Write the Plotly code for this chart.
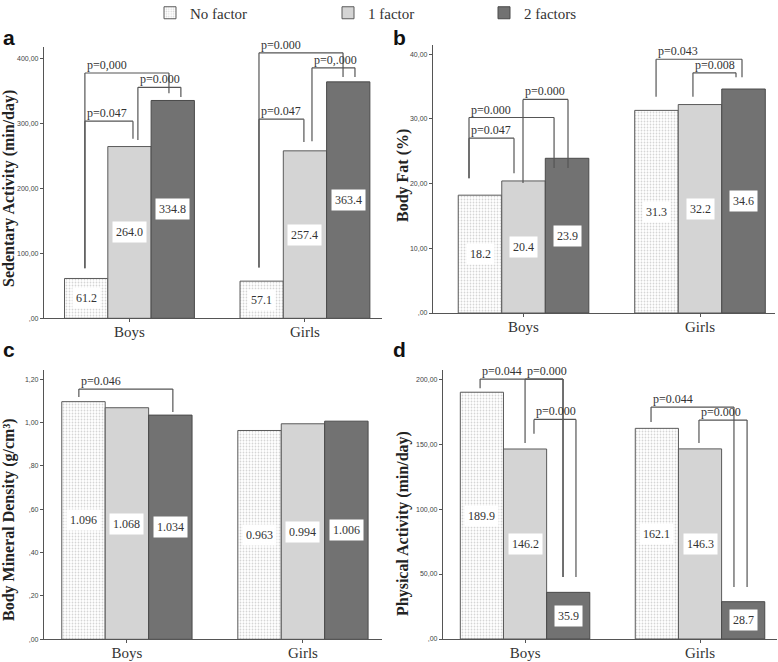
import plotly.graph_objects as go

W, H = 778, 662

groups = ["Boys", "Girls"]
series = ["No factor", "1 factor", "2 factors"]

# Sedentary activity (min/day)
sed_no = [61.2, 57.1]
sed_one = [264.0, 257.4]
sed_two = [334.8, 363.4]
# Body fat (%)
fat_no = [18.2, 31.3]
fat_one = [20.4, 32.2]
fat_two = [23.9, 34.6]
# Body mineral density (g/cm3)
bmd_no = [1.096, 0.963]
bmd_one = [1.068, 0.994]
bmd_two = [1.034, 1.006]
# Physical activity (min/day)
pa_no = [189.9, 162.1]
pa_one = [146.2, 146.3]
pa_two = [35.9, 28.7]

sed_ticks = [0, 100, 200, 300, 400]
sed_ticktext = [",00", "100,00", "200,00", "300,00", "400,00"]
fat_ticks = [0, 10, 20, 30, 40]
fat_ticktext = [",00", "10,00", "20,00", "30,00", "40,00"]
bmd_ticks = [0, 0.2, 0.4, 0.6, 0.8, 1.0, 1.2]
bmd_ticktext = [",00", ",20", ",40", ",60", ",80", "1,00", "1,20"]
pa_ticks = [0, 50, 100, 150, 200]
pa_ticktext = [",00", "50,00", "100,00", "150,00", "200,00"]

# significance brackets: (text, group, left offset, right offset, top, left bottom, right bottom)
sed_brackets = [
    ("p=0,000", 0, -0.254, 0.225, 377, 77, 346),
    ("p=0.000", 0, 0.048, 0.293, 355, 274, 340),
    ("p=0.047", 0, -0.254, 0.02, 303, 77, 276),
    ("p=0.000", 1, -0.262, 0.217, 408, 78, 371),
    ("p=0,.000", 1, 0.04, 0.285, 385, 272, 371),
    ("p=0.047", 1, -0.262, -0.006, 306, 78, 271),
]
fat_brackets = [
    ("p=0.047", 0, -0.309, -0.054, 27.0, 20.8, 21.6),
    ("p=0.000", 0, -0.309, 0.173, 30.2, 20.8, 22.4),
    ("p=0.000", 0, -0.003, 0.252, 33.0, 20.1, 22.4),
    ("p=0.043", 1, -0.249, 0.238, 39.2, 33.4, 36.4),
    ("p=0.008", 1, -0.04, 0.204, 37.1, 33.4, 36.4),
]
bmd_brackets = [
    ("p=0.046", 0, -0.273, 0.261, 1.154, 1.117, 1.048),
]
pa_brackets = [
    ("p=0.044", 0, -0.257, 0.217, 200, 193, 47.7),
    ("p=0.000", 0, 0.0, 0.217, 200, 150.8, 47.7),
    ("p=0.000", 0, 0.051, 0.291, 169, 158, 47.7),
    ("p=0.044", 1, -0.28, 0.194, 178.5, 167, 40),
    ("p=0.000", 1, -0.006, 0.269, 168.5, 150.8, 40),
]


def px(x):
    return x / W


def py(y):
    return 1 - y / H


panels = [
    dict(letter="a", vals=[sed_no, sed_one, sed_two], fmt="{:.1f}",
         title="Sedentary Activity (min/day)", ticks=sed_ticks, ticktext=sed_ticktext,
         xpix=(44, 382), ypix=(318.3, 47), yrange=(0, 417), xrange=(-0.487, 1.439),
         letterpos=(1, 38), titlepos=(9, 189), brackets=sed_brackets),
    dict(letter="b", vals=[fat_no, fat_one, fat_two], fmt="{:.1f}",
         title="Body Fat (%)", ticks=fat_ticks, ticktext=fat_ticktext,
         xpix=(433, 775), ypix=(313, 45), yrange=(0, 41.4), xrange=(-0.513, 1.425),
         letterpos=(391, 38), titlepos=(403, 175), brackets=fat_brackets),
    dict(letter="c", vals=[bmd_no, bmd_one, bmd_two], fmt="{:.3f}",
         title="Body Mineral Density (g/cm³)", ticks=bmd_ticks, ticktext=bmd_ticktext,
         xpix=(44, 382), ypix=(639.3, 370), yrange=(0, 1.242), xrange=(-0.471, 1.449),
         letterpos=(1, 349), titlepos=(9, 520), brackets=bmd_brackets),
    dict(letter="d", vals=[pa_no, pa_one, pa_two], fmt="{:.1f}",
         title="Physical Activity (min/day)", ticks=pa_ticks, ticktext=pa_ticktext,
         xpix=(443, 777), ypix=(639, 370), yrange=(0, 207), xrange=(-0.469, 1.44),
         letterpos=(391, 349), titlepos=(403, 523), brackets=pa_brackets),
]

SERIF = "Times New Roman, Liberation Serif, DejaVu Serif, serif"
SANS = "Arial, Liberation Sans, DejaVu Sans, sans-serif"
LINE = "#555555"
TXT = "#333333"
BARGAP = 0.26
bw = (1 - BARGAP) / 3

markers = [
    dict(color="white", line=dict(color="#5a5a5a", width=1),
         pattern=dict(shape=".", fgcolor="#ababab", bgcolor="white", size=3, solidity=0.28)),
    dict(color="#d4d4d4", line=dict(color="#5a5a5a", width=1)),
    dict(color="#727272", line=dict(color="#4a4a4a", width=1)),
]
legend_x = [150, 328, 484]

fig = go.Figure()
annotations = []
shapes = []
layout = {}

for p_i, p in enumerate(panels):
    n = "" if p_i == 0 else str(p_i + 1)
    xa, ya = "x" + n, "y" + n
    for s_i, s in enumerate(series):
        fig.add_trace(go.Bar(
            x=groups, y=p["vals"][s_i], name=s, xaxis=xa, yaxis=ya,
            marker=markers[s_i], showlegend=(p_i == 0),
            legend=("legend" if s_i == 0 else "legend" + str(s_i + 1)),
            hoverinfo="skip",
        ))
        for g_i, v in enumerate(p["vals"][s_i]):
            annotations.append(dict(
                x=g_i + (s_i - 1) * bw, y=v / 2, xref=xa, yref=ya,
                text=p["fmt"].format(v), showarrow=False, bgcolor="white",
                borderpad=3, font=dict(family=SERIF, size=12, color=TXT),
            ))
    for (t, g, x0, x1, top, b0, b1) in p["brackets"]:
        for (ax0, ay0, ax1, ay1) in [(x0, b0, x0, top), (x0, top, x1, top), (x1, top, x1, b1)]:
            shapes.append(dict(type="line", xref=xa, yref=ya,
                               x0=g + ax0, y0=ay0, x1=g + ax1, y1=ay1,
                               line=dict(color=LINE, width=1.2)))
        annotations.append(dict(
            x=g + x0, y=top, xref=xa, yref=ya, text=t, showarrow=False,
            xanchor="left", yanchor="bottom", xshift=0, yshift=-1,
            font=dict(family=SERIF, size=12, color=TXT),
        ))
    # panel letter
    annotations.append(dict(
        x=px(p["letterpos"][0]), y=py(p["letterpos"][1]), xref="paper", yref="paper",
        text="<b>" + p["letter"] + "</b>", showarrow=False, xanchor="left", yanchor="middle",
        font=dict(family=SANS, size=21, color="#111111"),
    ))
    # y axis title
    annotations.append(dict(
        x=px(p["titlepos"][0]), y=py(p["titlepos"][1]), xref="paper", yref="paper",
        text="<b>" + p["title"] + "</b>", showarrow=False, textangle=-90,
        xanchor="center", yanchor="middle",
        font=dict(family=SERIF, size=16, color="#222222"),
    ))
    layout["xaxis" + n] = dict(
        domain=[px(p["xpix"][0]), px(p["xpix"][1])], anchor=ya, automargin=False,
        range=list(p["xrange"]), showline=True, linecolor=LINE, linewidth=1.2,
        ticks="outside", ticklen=3, tickcolor=LINE, showgrid=False, zeroline=False,
        ticklabelstandoff=-3,
        tickfont=dict(family=SERIF, size=15, color=TXT), fixedrange=True,
    )
    layout["yaxis" + n] = dict(
        domain=[py(p["ypix"][0]), py(p["ypix"][1])], anchor=xa, automargin=False,
        range=list(p["yrange"]), showline=True, linecolor=LINE, linewidth=1.2,
        ticks="outside", ticklen=3, tickcolor=LINE, showgrid=False, zeroline=False,
        tickvals=p["ticks"], ticktext=p["ticktext"],
        tickfont=dict(family=SANS, size=7, color="#444444"), fixedrange=True,
    )

for s_i in range(3):
    key = "legend" if s_i == 0 else "legend" + str(s_i + 1)
    layout[key] = dict(x=px(legend_x[s_i]), y=py(13), xanchor="left", yanchor="middle",
                       orientation="h", bgcolor="rgba(0,0,0,0)",
                       font=dict(family=SERIF, size=15, color=TXT))

fig.update_layout(
    width=W, height=H, margin=dict(l=0, r=0, t=0, b=0, autoexpand=False),
    paper_bgcolor="white", plot_bgcolor="white",
    barmode="group", bargap=BARGAP, bargroupgap=0,
    annotations=annotations, shapes=shapes, **layout,
)

fig.write_html("out.html", config={"displayModeBar": False},
               post_script="document.body.style.margin='0px';")
